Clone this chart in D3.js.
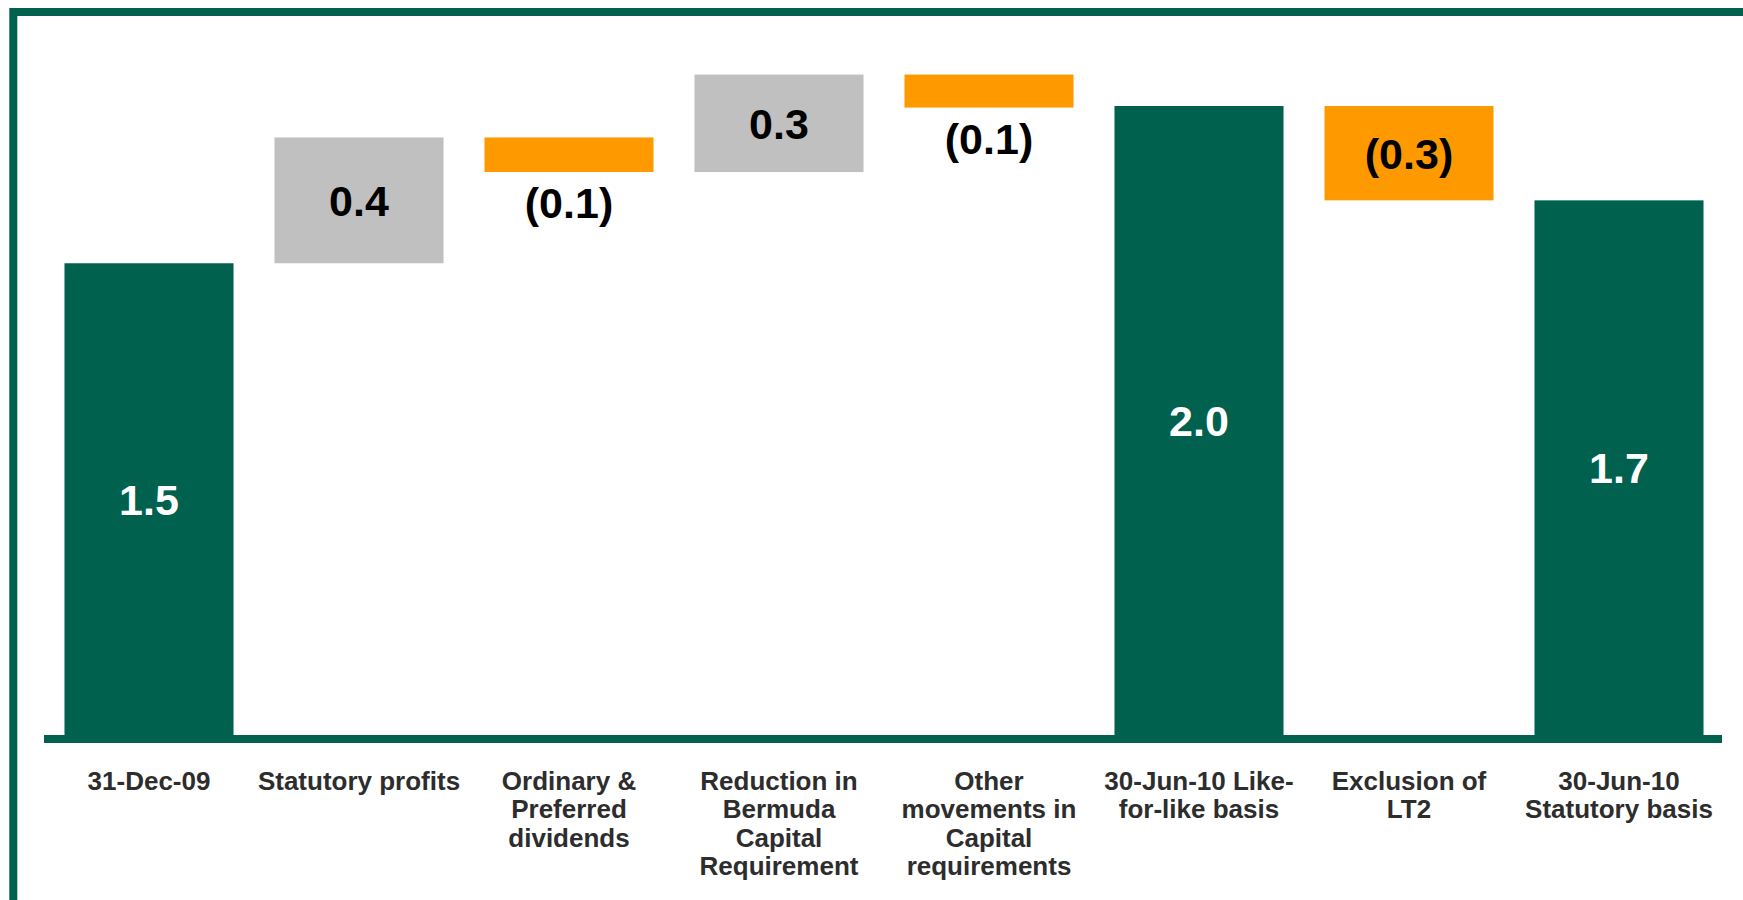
<!DOCTYPE html>
<html>
<head>
<meta charset="utf-8">
<script src="https://cdn.jsdelivr.net/npm/d3@7"></script>
<style>
  html, body { margin: 0; padding: 0; background: #fff; }
  svg { display: block; }
</style>
</head>
<body>
<div id="chart"></div>
<script>
// waterfall data
var categoryLines = [
  ["31-Dec-09"],
  ["Statutory profits"],
  ["Ordinary &", "Preferred", "dividends"],
  ["Reduction in", "Bermuda", "Capital", "Requirement"],
  ["Other", "movements in", "Capital", "requirements"],
  ["30-Jun-10 Like-", "for-like basis"],
  ["Exclusion of", "LT2"],
  ["30-Jun-10", "Statutory basis"]
];
var kinds = ["total", "delta", "delta", "delta", "delta", "total", "delta", "total"];
var values = [1.5, 0.40, -0.11, 0.31, -0.105, 2.0, -0.30, 1.7];

var svgWidth = 1743;
var svgHeight = 900;
var baseY = 735;

var green = "#00614f";
var grey = "#c0c0c0";
var orange = "#ff9900";

var svg = d3.select("#chart")
  .append("svg").attr("width", svgWidth).attr("height", svgHeight);

// frame (left and top edges only show in the picture)
svg.append("path")
  .attr("d", "M13.3,900V12H1743")
  .attr("fill", "none")
  .attr("stroke", green)
  .attr("stroke-width", 8);

var x = d3.scaleBand()
  .domain(d3.range(values.length))
  .range([44, 1724])
  .paddingInner(0.195)
  .paddingOuter(0.0975);

var y = d3.scaleLinear().domain([0, 2]).range([baseY, 106]);

// running totals for the floating bars
var running = 0;
var bars = values.map(function(v, i) {
  var lo, hi;
  if (kinds[i] === "total") {
    lo = 0; hi = v; running = v;
  } else {
    lo = running; hi = running + v; running = hi;
  }
  return {i: i, v: v, kind: kinds[i], y0: Math.min(lo, hi), y1: Math.max(lo, hi)};
});

function barColor(d) {
  if (d.kind === "total") return green;
  return d.v >= 0 ? grey : orange;
}

svg.selectAll("rect.bar")
  .data(bars)
  .enter()
  .append("rect")
  .attr("class", "bar")
  .attr("x", d => x(d.i))
  .attr("width", x.bandwidth())
  .attr("y", d => y(d.y1))
  .attr("height", d => y(d.y0) - y(d.y1))
  .attr("fill", barColor);

// baseline
svg.append("line")
  .attr("x1", 44).attr("x2", 1722)
  .attr("y1", baseY + 4).attr("y2", baseY + 4)
  .attr("stroke", green)
  .attr("stroke-width", 8);

var fmt = d3.format(".1f");
function labelText(v) {
  return v < 0 ? "(" + fmt(-v) + ")" : fmt(v);
}

svg.selectAll("text.value")
  .data(bars)
  .enter()
  .append("text")
  .attr("class", "value")
  .attr("x", d => x(d.i) + x.bandwidth() / 2)
  .attr("y", function(d) {
    var top = y(d.y1), bottom = y(d.y0);
    if (bottom - top > 60) return (top + bottom) / 2 + 15.5;
    return bottom + 46;
  })
  .attr("text-anchor", "middle")
  .attr("font-family", "'Liberation Sans', Arial, sans-serif")
  .attr("font-weight", "bold")
  .attr("font-size", "43px")
  .attr("fill", d => d.kind === "total" ? "#fff" : "#000")
  .text(d => labelText(d.v));

// category labels
var catGroup = svg.selectAll("text.cat")
  .data(categoryLines)
  .enter()
  .append("text")
  .attr("class", "cat")
  .attr("text-anchor", "middle")
  .attr("font-family", "'Liberation Sans', Arial, sans-serif")
  .attr("font-weight", "bold")
  .attr("font-size", "26px")
  .attr("fill", "#2d2d2d");

catGroup.each(function(lines, i) {
  var t = d3.select(this);
  var cx = x(i) + x.bandwidth() / 2;
  lines.forEach(function(line, j) {
    t.append("tspan")
      .attr("x", cx)
      .attr("y", 790 + j * 28.3)
      .text(line);
  });
});
</script>
</body>
</html>
